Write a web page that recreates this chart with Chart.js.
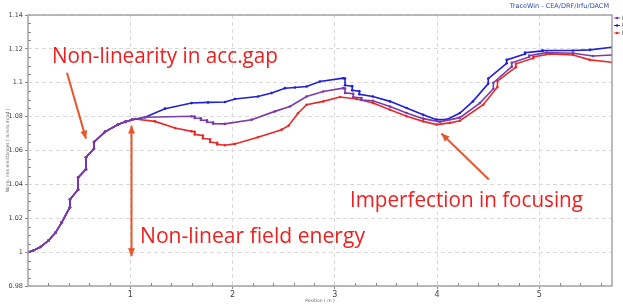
<!DOCTYPE html>
<html>
<head>
<meta charset="utf-8">
<script src="https://cdn.jsdelivr.net/npm/chart.js@4"></script>
<style>
  body { margin: 0; background: #fff; }
  #wrap { width: 623px; height: 307px; }
</style>
</head>
<body>
<div id="wrap"><canvas id="emit" width="623" height="307"></canvas></div>
<script>
// position (m) and normalised emittance
// the first part is shared by the three runs
const riseX = [0, 0.05, 0.12, 0.2, 0.27, 0.33, 0.41, 0.41, 0.49, 0.49, 0.567, 0.567, 0.645, 0.645, 0.753, 0.88, 0.95];
const riseY = [1.0, 1.0008, 1.003, 1.0068, 1.0115, 1.0176, 1.0265, 1.031, 1.037, 1.044, 1.049, 1.056, 1.061, 1.065, 1.071, 1.0753, 1.0769];

const blueX = [1.017, 1.144, 1.339, 1.6, 1.76, 1.926, 2.023, 2.248, 2.382, 2.512, 2.61, 2.724, 2.854, 3.082,
  3.10, 3.10, 3.17, 3.17, 3.24, 3.24, 3.372, 3.539, 3.702, 3.864, 3.995, 4.093, 4.223, 4.35,
  4.5, 4.5, 4.68, 4.68, 4.86, 4.86, 5.03, 5.03, 5.327, 5.494, 5.71];
const blueY = [1.0782, 1.0796, 1.0847, 1.088, 1.0884, 1.0886, 1.0904, 1.0919, 1.0939, 1.0968, 1.0972, 1.0978, 1.1007, 1.1027,
  1.1025, 1.0985, 1.098, 1.0955, 1.095, 1.0932, 1.0919, 1.089, 1.0851, 1.0811, 1.0782, 1.0782, 1.0821, 1.089,
  1.0995, 1.1025, 1.1115, 1.1135, 1.117, 1.1178, 1.1188, 1.119, 1.119, 1.1194, 1.121];

const purpleX = [1.017, 1.144, 1.6, 1.63, 1.63, 1.69, 1.69, 1.75, 1.75, 1.81, 1.81, 1.926, 2.187, 2.414, 2.561, 2.724, 2.887, 3.082,
  3.10, 3.10, 3.18, 3.18, 3.26, 3.26, 3.372, 3.539, 3.702, 3.864, 4.027, 4.223, 4.418,
  4.55, 4.55, 4.73, 4.73, 4.9, 4.9, 5.07, 5.33, 5.523, 5.71];
const purpleY = [1.0782, 1.0796, 1.0802, 1.08, 1.0792, 1.079, 1.078, 1.0778, 1.0768, 1.0765, 1.0758, 1.0757, 1.0782, 1.0831, 1.086, 1.0919, 1.0948, 1.0968,
  1.0966, 1.094, 1.0935, 1.0915, 1.091, 1.0898, 1.0894, 1.086, 1.0821, 1.0788, 1.0769, 1.0794, 1.088,
  1.0965, 1.1, 1.1095, 1.1118, 1.1152, 1.116, 1.1178, 1.1174, 1.1158, 1.1164];

const redX = [1.046, 1.241, 1.437, 1.6, 1.63, 1.63, 1.71, 1.71, 1.78, 1.78, 1.85, 1.85, 1.926, 2.023, 2.248, 2.48, 2.55, 2.64, 2.724,
  2.887, 3.05, 3.213, 3.375, 3.539, 3.702, 3.864, 3.995, 4.125, 4.223, 4.451,
  4.59, 4.59, 4.77, 4.77, 4.94, 4.94, 5.103, 5.33, 5.494, 5.71];
const redY = [1.0786, 1.0772, 1.0733, 1.0713, 1.0711, 1.0695, 1.0688, 1.0672, 1.0666, 1.065, 1.0645, 1.0636, 1.0631, 1.0639, 1.0678, 1.0723, 1.0748, 1.082, 1.087,
  1.089, 1.0916, 1.0904, 1.088, 1.0841, 1.0802, 1.0772, 1.0753, 1.0763, 1.0776, 1.087,
  1.0975, 1.101, 1.1092, 1.1112, 1.1145, 1.1152, 1.117, 1.1164, 1.1135, 1.1121];

const seriesNames = ['Run 1', 'Run 2', 'Run 3'];
const yTicks = [0.98, 1.0, 1.02, 1.04, 1.06, 1.08, 1.1, 1.12, 1.14];
const xTicks = [1, 2, 3, 4, 5];

function toPoints(xs, ys) {
  return xs.map((x, i) => ({ x: x, y: ys[i] }));
}

// notes written on the plot, placed in data units
const notes = [
  { text: 'Non-linearity in acc.gap', x: 0.235, y: 1.1117, w: 226 },
  { text: 'Imperfection in focusing', x: 3.148, y: 1.0265, w: 233 },
  { text: 'Non-linear field energy', x: 1.095, y: 1.0053, w: 225 }
];
const arrows = [
  { from: [0.381, 1.1059], to: [0.567, 1.067], both: false },
  { from: [1.012, 0.9976], to: [1.012, 1.0747], both: true },
  { from: [4.506, 1.0429], to: [4.042, 1.0700], both: false }
];

const lineStyle = (color) => ({
  borderColor: color,
  backgroundColor: color,
  borderWidth: 1.6,
  pointRadius: 1.3,
  pointHoverRadius: 1.3,
  pointBorderWidth: 0,
  showLine: true,
  tension: 0
});

function head(ctx, x0, y0, x1, y1) {
  const a = Math.atan2(y1 - y0, x1 - x0);
  const len = 8, half = 3.5;
  ctx.beginPath();
  ctx.moveTo(x1, y1);
  ctx.lineTo(x1 - len * Math.cos(a) + half * Math.sin(a), y1 - len * Math.sin(a) - half * Math.cos(a));
  ctx.lineTo(x1 - len * Math.cos(a) - half * Math.sin(a), y1 - len * Math.sin(a) + half * Math.cos(a));
  ctx.closePath();
  ctx.fill();
}

const plotDecor = {
  id: 'plotDecor',
  afterDatasetsDraw(chart) {
    const { ctx, chartArea: a, scales: { x, y } } = chart;
    ctx.save();
    // frame
    ctx.strokeStyle = '#a4a4a4';
    ctx.lineWidth = 1.5;
    ctx.strokeRect(a.left, a.top, a.right - a.left, a.bottom - a.top);
    // minor ticks inside the frame
    ctx.strokeStyle = '#8a8a8a';
    ctx.lineWidth = 1;
    ctx.beginPath();
    for (let i = 1; i < 32; i++) {
      if (i % 4 === 0) continue;
      const py = Math.round(y.getPixelForValue(0.98 + i * 0.005)) + 0.5;
      ctx.moveTo(a.left, py);
      ctx.lineTo(a.left + 3, py);
    }
    for (let i = 1; i * 0.2 < x.max; i++) {
      if (i % 5 === 0) continue;
      const px = Math.round(x.getPixelForValue(i * 0.2)) + 0.5;
      ctx.moveTo(px, a.bottom);
      ctx.lineTo(px, a.bottom - 3);
    }
    ctx.stroke();

    // arrows
    ctx.strokeStyle = '#e9552c';
    ctx.fillStyle = '#e9552c';
    ctx.lineWidth = 2;
    arrows.forEach(ar => {
      const x0 = x.getPixelForValue(ar.from[0]), y0 = y.getPixelForValue(ar.from[1]);
      const x1 = x.getPixelForValue(ar.to[0]), y1 = y.getPixelForValue(ar.to[1]);
      ctx.beginPath();
      ctx.moveTo(x0, y0);
      ctx.lineTo(x1, y1);
      ctx.stroke();
      head(ctx, x0, y0, x1, y1);
      if (ar.both) head(ctx, x1, y1, x0, y0);
    });

    // text notes
    ctx.fillStyle = '#ee1f1f';
    ctx.font = '22px "Open Sans"';
    ctx.textBaseline = 'alphabetic';
    ctx.textAlign = 'left';
    notes.forEach(n => {
      ctx.fillText(n.text, x.getPixelForValue(n.x), y.getPixelForValue(n.y), n.w);
    });

    // software tag
    ctx.fillStyle = '#2d4fb4';
    ctx.font = '6.5px "DejaVu Sans"';
    ctx.textAlign = 'right';
    ctx.textBaseline = 'middle';
    ctx.fillText('TraceWin - CEA/DRF/Irfu/DACM', 609, 6);

    // legend squeezed at the right edge
    ctx.textAlign = 'left';
    ctx.font = '6px "DejaVu Sans"';
    chart.data.datasets.forEach((ds, i) => {
      const ly = 18 + i * 7.5;
      ctx.strokeStyle = ds.borderColor;
      ctx.fillStyle = ds.borderColor;
      ctx.lineWidth = 1;
      ctx.beginPath();
      ctx.moveTo(614, ly);
      ctx.lineTo(620, ly);
      ctx.stroke();
      ctx.beginPath();
      ctx.arc(617, ly, 1.2, 0, Math.PI * 2);
      ctx.fill();
      ctx.fillStyle = '#777';
      ctx.fillText(ds.label, 621.5, ly);
    });
    ctx.restore();
  }
};

new Chart(document.getElementById('emit'), {
  type: 'scatter',
  data: {
    datasets: [
      Object.assign({ label: seriesNames[0], data: toPoints(riseX.concat(purpleX), riseY.concat(purpleY)) }, lineStyle('#7d3aa8')),
      Object.assign({ label: seriesNames[1], data: toPoints(riseX.concat(blueX), riseY.concat(blueY)) }, lineStyle('#2020d6')),
      Object.assign({ label: seriesNames[2], data: toPoints(riseX.concat(redX), riseY.concat(redY)) }, lineStyle('#e52a2a'))
    ]
  },
  options: {
    responsive: false,
    animation: false,
    devicePixelRatio: 1,
    layout: { padding: { left: 0, right: 11, top: 15, bottom: 0 } },
    plugins: {
      legend: { display: false },
      tooltip: { enabled: false }
    },
    scales: {
      x: {
        type: 'linear',
        min: 0,
        max: 5.71,
        afterBuildTicks: s => { s.ticks = xTicks.map(v => ({ value: v })); },
        afterFit: s => { s.height = 21; },
        ticks: {
          color: '#444',
          font: { family: 'DejaVu Sans', size: 8 },
          padding: 1,
          maxRotation: 0
        },
        grid: {
          color: '#dadada',
          tickColor: '#8a8a8a',
          tickLength: 3,
          tickBorderDash: [1, 0]
        },
        border: { display: false, dash: [4, 3] },
        title: {
          display: true,
          text: 'Position ( m )',
          color: '#666',
          font: { family: 'DejaVu Sans', size: 4.5 },
          padding: { top: 0, bottom: 3 }
        }
      },
      y: {
        min: 0.98,
        max: 1.14,
        afterBuildTicks: s => { s.ticks = yTicks.map(v => ({ value: v })); },
        afterFit: s => { s.width = 28; },
        ticks: {
          color: '#444',
          font: { family: 'DejaVu Sans', size: 6.5 },
          padding: 2,
          callback: v => String(+v.toFixed(2))
        },
        grid: {
          color: '#dadada',
          tickColor: '#8a8a8a',
          tickLength: 3,
          tickBorderDash: [1, 0]
        },
        border: { display: false, dash: [4, 3] },
        title: {
          display: true,
          text: 'Norm. rms emittances ( π.mm.mrad )',
          color: '#666',
          font: { family: 'DejaVu Sans', size: 4.5 },
          padding: { top: 5, bottom: 0 }
        }
      }
    }
  },
  plugins: [plotDecor]
});
</script>
</body>
</html>
